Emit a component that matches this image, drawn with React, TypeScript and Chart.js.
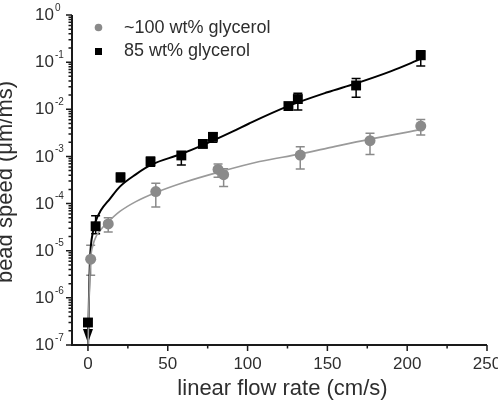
import React, { useEffect, useRef } from 'react';
import { Chart, registerables } from 'chart.js';

Chart.register(...registerables);

// Measured bead speeds, 85 wt% glycerol (black squares)
const blackX = [0, 4.8, 20.4, 39.2, 58.5, 72, 78.3, 125.6, 131.5, 168, 208.5];
const blackY = [3e-7, 3.3e-5, 3.6e-4, 7.8e-4, 1.05e-3, 1.84e-3, 2.6e-3, 1.17e-2, 1.65e-2, 3.2e-2, 0.14];
const blackLo = [0, 2.3e-5, 2.9e-4, 6.2e-4, 6.6e-4, 1.55e-3, 2.0e-3, 1.0e-2, 9.7e-3, 1.8e-2, 0.083];
const blackHi = [3.6e-7, 5.5e-5, 4.4e-4, 9.6e-4, 1.25e-3, 2.2e-3, 3.1e-3, 1.35e-2, 2.2e-2, 4.5e-2, 0.175];

// Measured bead speeds, ~100 wt% glycerol (grey circles)
const grayX = [1.7, 12.7, 42.5, 81.5, 85, 133, 176.7, 208.5];
const grayY = [6.6e-6, 3.7e-5, 1.8e-4, 5.3e-4, 4.1e-4, 1.07e-3, 2.16e-3, 4.4e-3];
const grayLo = [3e-6, 2.5e-5, 8.5e-5, 3.6e-4, 2.3e-4, 5.4e-4, 1.1e-3, 2.85e-3];
const grayHi = [1.3e-5, 5e-5, 2.7e-4, 6.9e-4, 5.5e-4, 1.6e-3, 3.1e-3, 6.1e-3];

// Fitted curves
const blackFitX = [0.1, 0.6, 1.3, 3, 4.8, 8, 13.75, 20, 30, 40, 57.5, 72, 90.8, 101, 125, 150, 168, 190, 208.5];
const blackFitY = [1e-7, 8.9e-7, 6.6e-6, 2.4e-5, 4.2e-5, 7.1e-5, 1.26e-4, 2.29e-4, 4.17e-4, 6.76e-4, 1.1e-3, 1.74e-3, 3.39e-3, 5.0e-3, 1.15e-2, 2.29e-2, 3.55e-2, 6.46e-2, 0.117];
const grayFitX = [0.1, 0.6, 1.7, 3, 5.4, 8, 11.7, 20, 30, 43, 60, 82.5, 107.5, 132.5, 150, 176, 208.5];
const grayFitY = [1e-7, 7.9e-7, 6.6e-6, 1.26e-5, 2.1e-5, 2.8e-5, 3.8e-5, 6.8e-5, 1.1e-4, 1.74e-4, 2.8e-4, 4.7e-4, 7.8e-4, 1.12e-3, 1.5e-3, 2.3e-3, 3.7e-3];

// Axis ticks
const xMajorTicks = [0, 50, 100, 150, 200, 250];
const xMinorTicks = [25, 75, 125, 175, 225];
const yExponents = [-7, -6, -5, -4, -3, -2, -1, 0];

const legendLabels = ['~100 wt% glycerol', '85 wt% glycerol'];
const xTitle = 'linear flow rate (cm/s)';
const yTitle = 'bead speed (\u03bcm/ms)';

const FONT = '"Liberation Sans", Arial, Helvetica, sans-serif';
const TEXT = '#2e2e2e';
const AXIS = '#1a1a1a';
const GRAY = '#8a8a8a';
const GRAY_LINE = '#9a9a9a';

const errorBarPlugin = {
  id: 'errorBars',
  beforeDatasetsDraw(chart: any) {
    const { ctx } = chart;
    const xs = chart.scales.x;
    const ys = chart.scales.y;
    const groups = [
      { x: grayX, lo: grayLo, hi: grayHi, color: GRAY },
      { x: blackX, lo: blackLo, hi: blackHi, color: '#000' },
    ];
    ctx.save();
    ctx.lineWidth = 1.5;
    for (const g of groups) {
      ctx.strokeStyle = g.color;
      ctx.fillStyle = g.color;
      g.x.forEach((xv, i) => {
        const px = xs.getPixelForValue(xv);
        const pyHi = ys.getPixelForValue(g.hi[i]);
        const arrow = g.lo[i] <= ys.min;
        const pyLo = arrow ? ys.bottom - 16 : ys.getPixelForValue(g.lo[i]);
        ctx.beginPath();
        ctx.moveTo(px, pyHi);
        ctx.lineTo(px, pyLo);
        ctx.moveTo(px - 4.5, pyHi);
        ctx.lineTo(px + 4.5, pyHi);
        if (!arrow) {
          ctx.moveTo(px - 4.5, pyLo);
          ctx.lineTo(px + 4.5, pyLo);
        }
        ctx.stroke();
        if (arrow) {
          ctx.beginPath();
          ctx.moveTo(px - 5, pyLo);
          ctx.lineTo(px + 5, pyLo);
          ctx.lineTo(px, ys.bottom - 2);
          ctx.closePath();
          ctx.fill();
        }
      });
    }
    ctx.restore();
  },
};

const axesPlugin = {
  id: 'axesAndText',
  afterDraw(chart: any) {
    const { ctx, chartArea } = chart;
    const xs = chart.scales.x;
    const ys = chart.scales.y;
    const { left, right, top, bottom } = chartArea;
    ctx.save();

    // axis lines
    ctx.strokeStyle = AXIS;
    ctx.lineWidth = 2;
    ctx.beginPath();
    ctx.moveTo(left, top);
    ctx.lineTo(left, bottom);
    ctx.lineTo(right, bottom);
    ctx.stroke();

    // y ticks (log)
    ctx.lineWidth = 1.5;
    ctx.beginPath();
    yExponents.forEach((e) => {
      const py = ys.getPixelForValue(Math.pow(10, e));
      ctx.moveTo(left - 6, py);
      ctx.lineTo(left, py);
      if (e < 0) {
        for (let k = 2; k <= 9; k++) {
          const pm = ys.getPixelForValue(k * Math.pow(10, e));
          ctx.moveTo(left - 3.5, pm);
          ctx.lineTo(left, pm);
        }
      }
    });
    // x ticks
    xMajorTicks.forEach((v) => {
      const px = xs.getPixelForValue(v);
      ctx.moveTo(px, bottom);
      ctx.lineTo(px, bottom + 6);
    });
    xMinorTicks.forEach((v) => {
      const px = xs.getPixelForValue(v);
      ctx.moveTo(px, bottom);
      ctx.lineTo(px, bottom + 3.5);
    });
    ctx.stroke();

    ctx.fillStyle = TEXT;
    // y tick labels: 10 with superscript exponent
    yExponents.forEach((e) => {
      const py = ys.getPixelForValue(Math.pow(10, e));
      ctx.font = `17px ${FONT}`;
      ctx.textAlign = 'left';
      ctx.textBaseline = 'middle';
      ctx.fillText('10', 35, py + 0.5);
      const w = ctx.measureText('10').width;
      ctx.font = `10px ${FONT}`;
      ctx.fillText(String(e), 35 + w + 1, py - 7);
    });

    // x tick labels
    ctx.font = `17px ${FONT}`;
    ctx.textAlign = 'center';
    ctx.textBaseline = 'middle';
    xMajorTicks.forEach((v) => {
      ctx.fillText(String(v), xs.getPixelForValue(v), 364.5);
    });

    // axis titles
    ctx.font = `22px ${FONT}`;
    ctx.textAlign = 'center';
    ctx.textBaseline = 'alphabetic';
    ctx.fillText(xTitle, 282.5, 395);
    ctx.save();
    ctx.translate(11.5, 182);
    ctx.rotate(-Math.PI / 2);
    ctx.fillText(yTitle, 0, 0);
    ctx.restore();

    // legend
    ctx.fillStyle = GRAY;
    ctx.beginPath();
    ctx.arc(98.5, 27.5, 3.8, 0, Math.PI * 2);
    ctx.fill();
    ctx.fillStyle = '#000';
    ctx.fillRect(95, 48, 7, 7);
    ctx.fillStyle = TEXT;
    ctx.font = `18px ${FONT}`;
    ctx.textAlign = 'left';
    ctx.textBaseline = 'middle';
    ctx.fillText(legendLabels[0], 124, 28.5);
    ctx.fillText(legendLabels[1], 124, 51);

    ctx.restore();
  },
};

export default function App() {
  const ref = useRef<HTMLCanvasElement | null>(null);

  useEffect(() => {
    const canvas = ref.current;
    if (!canvas) return;
    const chart = new Chart(canvas, {
      type: 'scatter',
      data: {
        datasets: [
          {
            label: 'fit 85',
            data: blackFitX.map((x, i) => ({ x, y: blackFitY[i] })),
            showLine: true,
            pointRadius: 0,
            borderColor: '#000',
            borderWidth: 2,
            cubicInterpolationMode: 'monotone',
            order: 4,
          },
          {
            label: 'fit 100',
            data: grayFitX.map((x, i) => ({ x, y: grayFitY[i] })),
            showLine: true,
            pointRadius: 0,
            borderColor: GRAY_LINE,
            borderWidth: 1.6,
            cubicInterpolationMode: 'monotone',
            order: 3,
          },
          {
            label: legendLabels[0],
            data: grayX.map((x, i) => ({ x, y: grayY[i] })),
            pointStyle: 'circle',
            pointRadius: 5.5,
            backgroundColor: GRAY,
            borderWidth: 0,
            order: 2,
          },
          {
            label: legendLabels[1],
            data: blackX.map((x, i) => ({ x, y: blackY[i] })),
            pointStyle: 'rect',
            pointRadius: 7,
            backgroundColor: '#000',
            borderWidth: 0,
            order: 1,
          },
        ],
      } as any,
      options: {
        animation: false,
        responsive: false,
        layout: { padding: { top: 15, right: 11, left: 0, bottom: 0 } },
        plugins: { legend: { display: false }, tooltip: { enabled: false } },
        scales: {
          x: {
            type: 'linear',
            min: -10,
            max: 250,
            grid: { display: false },
            border: { display: false },
            ticks: { display: false },
            afterFit: (s: any) => {
              s.height = 61;
            },
          },
          y: {
            type: 'logarithmic',
            min: 1e-7,
            max: 1,
            grid: { display: false },
            border: { display: false },
            ticks: { display: false },
            afterFit: (s: any) => {
              s.width = 72;
            },
          },
        },
      } as any,
      plugins: [errorBarPlugin, axesPlugin],
    });
    return () => chart.destroy();
  }, []);

  return (
    <div style={{ position: 'fixed', left: 0, top: 0, width: 498, height: 406, background: '#fff' }}>
      <canvas ref={ref} width={498} height={406} style={{ display: 'block', width: 498, height: 406 }} />
    </div>
  );
}
